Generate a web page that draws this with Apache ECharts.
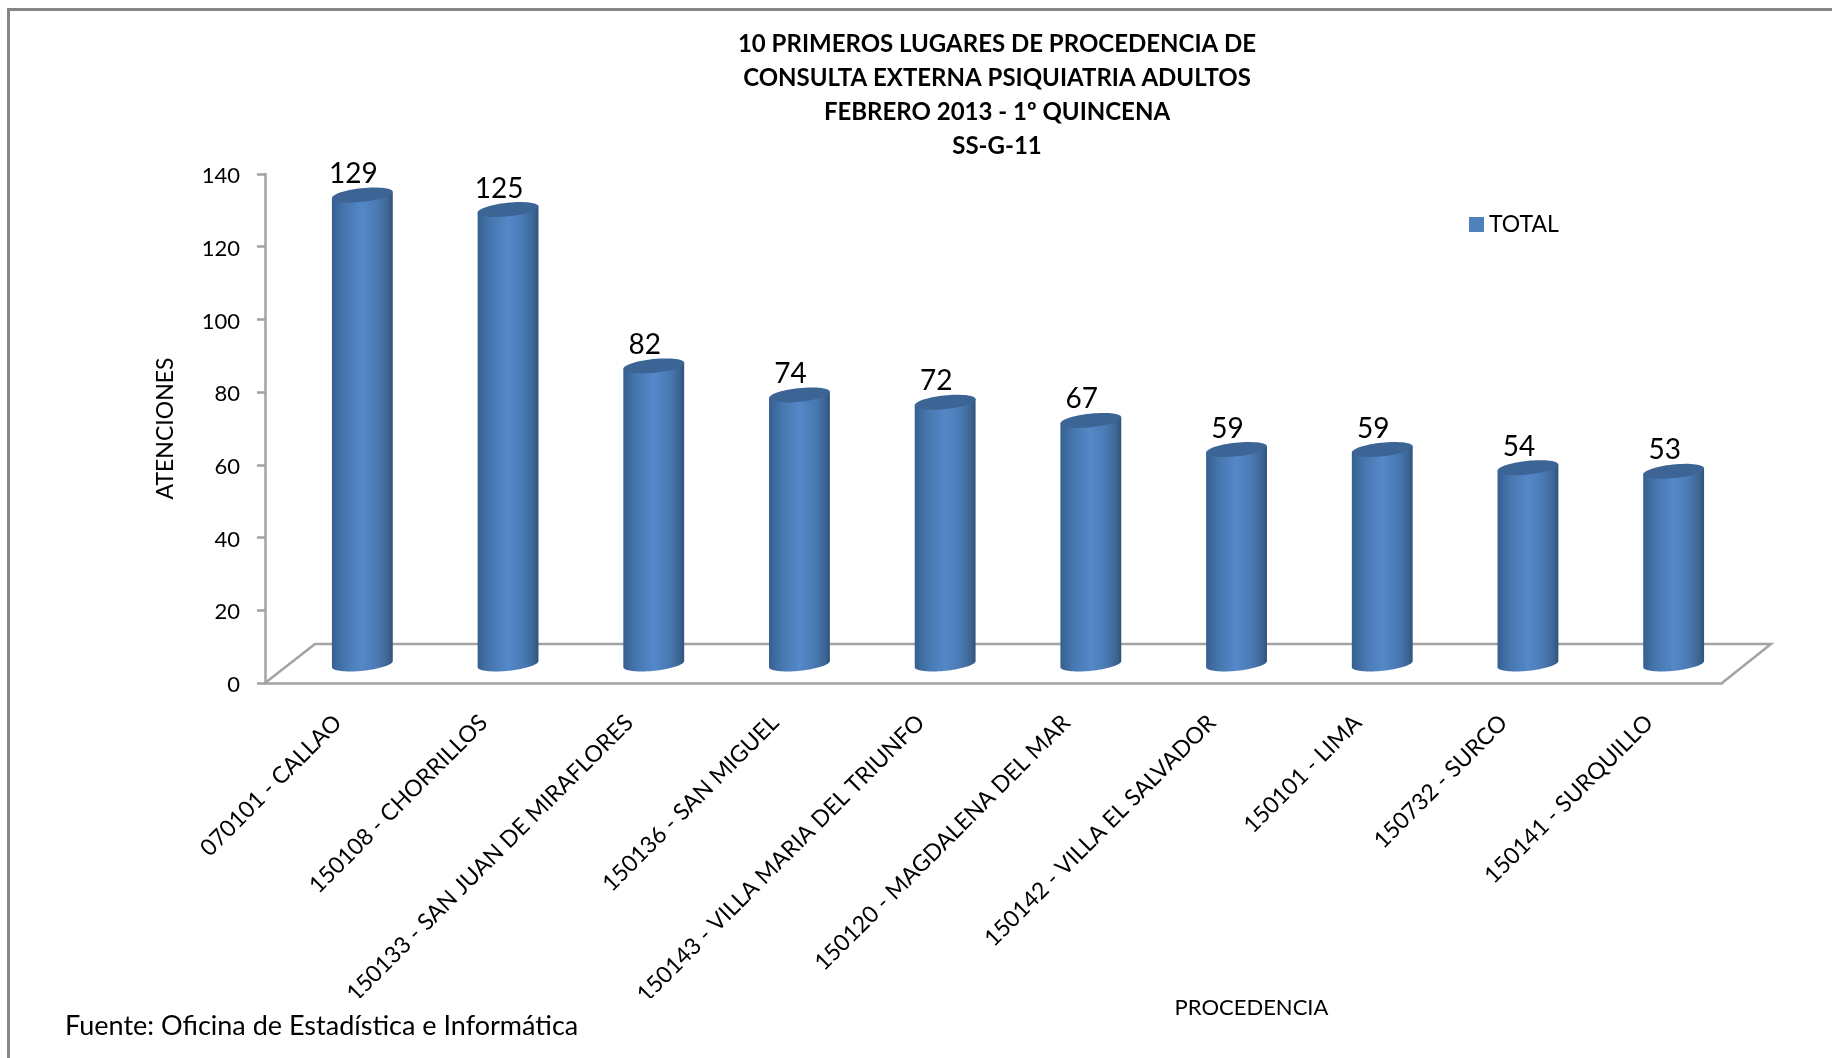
<!DOCTYPE html>
<html><head><meta charset="utf-8">
<style>html,body{margin:0;padding:0;background:#fff}#c{width:1832px;height:1058px}</style>
<script src="https://cdn.jsdelivr.net/npm/echarts@6/dist/echarts.min.js"></script>
</head><body><div id="c"></div>
<script>
const categories = ["070101 - CALLAO","150108 - CHORRILLOS","150133 - SAN JUAN DE MIRAFLORES","150136 - SAN MIGUEL","150143 - VILLA MARIA DEL TRIUNFO","150120 - MAGDALENA DEL MAR","150142 - VILLA EL SALVADOR","150101 - LIMA","150732 - SURCO","150141 - SURQUILLO"];
const totals = [129,125,82,74,72,67,59,59,54,53];
const titleLines = ["10 PRIMEROS LUGARES DE PROCEDENCIA DE","CONSULTA EXTERNA PSIQUIATRIA ADULTOS","FEBRERO 2013 - 1º QUINCENA","SS-G-11"];
const FONT = "Lato";
const DX = 24.5, DY = -19, TILT = -6*Math.PI/180, RY = 6.8;
const AXIS = "#a3a3a3";
function arc(cx,cy,rx,from,to,n){
  const p=[];
  for(let i=0;i<=n;i++){
    const t=n?from+(to-from)*i/n:from;
    const x=rx*Math.cos(t), y=RY*Math.sin(t);
    p.push([cx+x*Math.cos(TILT)-y*Math.sin(TILT), cy+x*Math.sin(TILT)+y*Math.cos(TILT)]);
  }
  return p;
}
const bodyFill = new echarts.graphic.LinearGradient(0,0,1,0,[
  {offset:0,color:"#365f90"},{offset:0.2,color:"#4676ae"},{offset:0.5,color:"#5488c8"},
  {offset:0.75,color:"#4a7ab4"},{offset:0.92,color:"#3c6593"},{offset:1,color:"#31527a"}]);
function renderCyl(params, api){
  const i=api.value(0), v=api.value(1);
  const top=api.coord([i,v]), base=api.coord([i,0]);
  const rx=api.size([1,0])[0]*0.21;
  const cx=top[0]+DX, ty=top[1]+DY, by=base[1]+DY;
  const body=[...arc(cx,ty,rx,Math.PI,Math.PI,0),...arc(cx,by,rx,0,Math.PI,40).reverse(),...arc(cx,ty,rx,0,0,0)];
  return {type:"group",children:[
    {type:"polygon",shape:{points:body},style:{fill:bodyFill}},
    {type:"polygon",shape:{points:arc(cx,ty,rx,0,2*Math.PI,60)},style:{fill:"#3c6595"}},
    {type:"text",x:cx-9,y:ty-21,style:{text:String(v),fill:"#000",font:"28px "+FONT,textAlign:"center",textVerticalAlign:"middle"}}
  ]};
}
const chart=echarts.init(document.getElementById("c"),null,{renderer:"canvas"});
const titleGraphics=titleLines.map((t,k)=>({type:"text",x:997,y:44+k*34,z:10,
  style:{text:t,fill:"#000",font:"bold 24px "+FONT,textAlign:"center",textVerticalAlign:"middle"}}));
chart.setOption({
  animation:false,
  backgroundColor:"#fff",
  legend:{data:["TOTAL"],left:1464,top:208,itemWidth:15,itemHeight:15,icon:"rect",
    textStyle:{fontFamily:FONT,fontSize:23,color:"#000"},itemGap:7},
  grid:{left:265,top:174,width:1457,height:509},
  xAxis:{type:"category",data:categories,boundaryGap:true,
    axisLine:{lineStyle:{color:AXIS,width:2.5}},axisTick:{show:false},
    axisLabel:{rotate:45,interval:0,margin:36,color:"#000",fontFamily:FONT,fontSize:23},
    name:"PROCEDENCIA",nameLocation:"middle",nameGap:314,nameMoveOverlap:false,
    nameTextStyle:{color:"#000",fontFamily:FONT,fontSize:22,padding:[0,0,0,516]}},
  yAxis:{type:"value",min:0,max:140,interval:20,
    axisLine:{show:true,lineStyle:{color:AXIS,width:2.5}},
    axisTick:{show:true,length:8,lineStyle:{color:AXIS,width:2.5}},
    splitLine:{show:false},
    axisLabel:{margin:25,color:"#000",fontFamily:FONT,fontSize:22,verticalAlign:"top",lineHeight:4},
    name:"ATENCIONES",nameLocation:"middle",nameGap:88,nameRotate:90,
    nameTextStyle:{color:"#000",fontFamily:FONT,fontSize:23}},
  graphic:[
    {type:"polyline",z:-1,shape:{points:[[265,683],[315,644],[1771,644],[1722,683]]},style:{stroke:AXIS,lineWidth:2.5,fill:null}},
    {type:"polyline",z:5,shape:{points:[[8.5,1058],[8.5,9.5],[1832,9.5]]},style:{stroke:"#868686",lineWidth:3,fill:null}},
    {type:"rect",z:100,shape:{x:300,y:998,width:420,height:16},style:{fill:"#fff"}},
    {type:"text",x:65,y:1026,z:101,style:{text:"Fuente: Oficina de Estadística e Informática",fill:"#000",font:"27px "+FONT,textVerticalAlign:"middle"}},
    ...titleGraphics
  ],
  series:[{type:"custom",name:"TOTAL",coordinateSystem:"cartesian2d",clip:false,
    itemStyle:{color:"#4f81bd"},encode:{x:0,y:1},
    data:totals.map((v,i)=>[i,v]),renderItem:renderCyl}]
});
</script></body></html>
